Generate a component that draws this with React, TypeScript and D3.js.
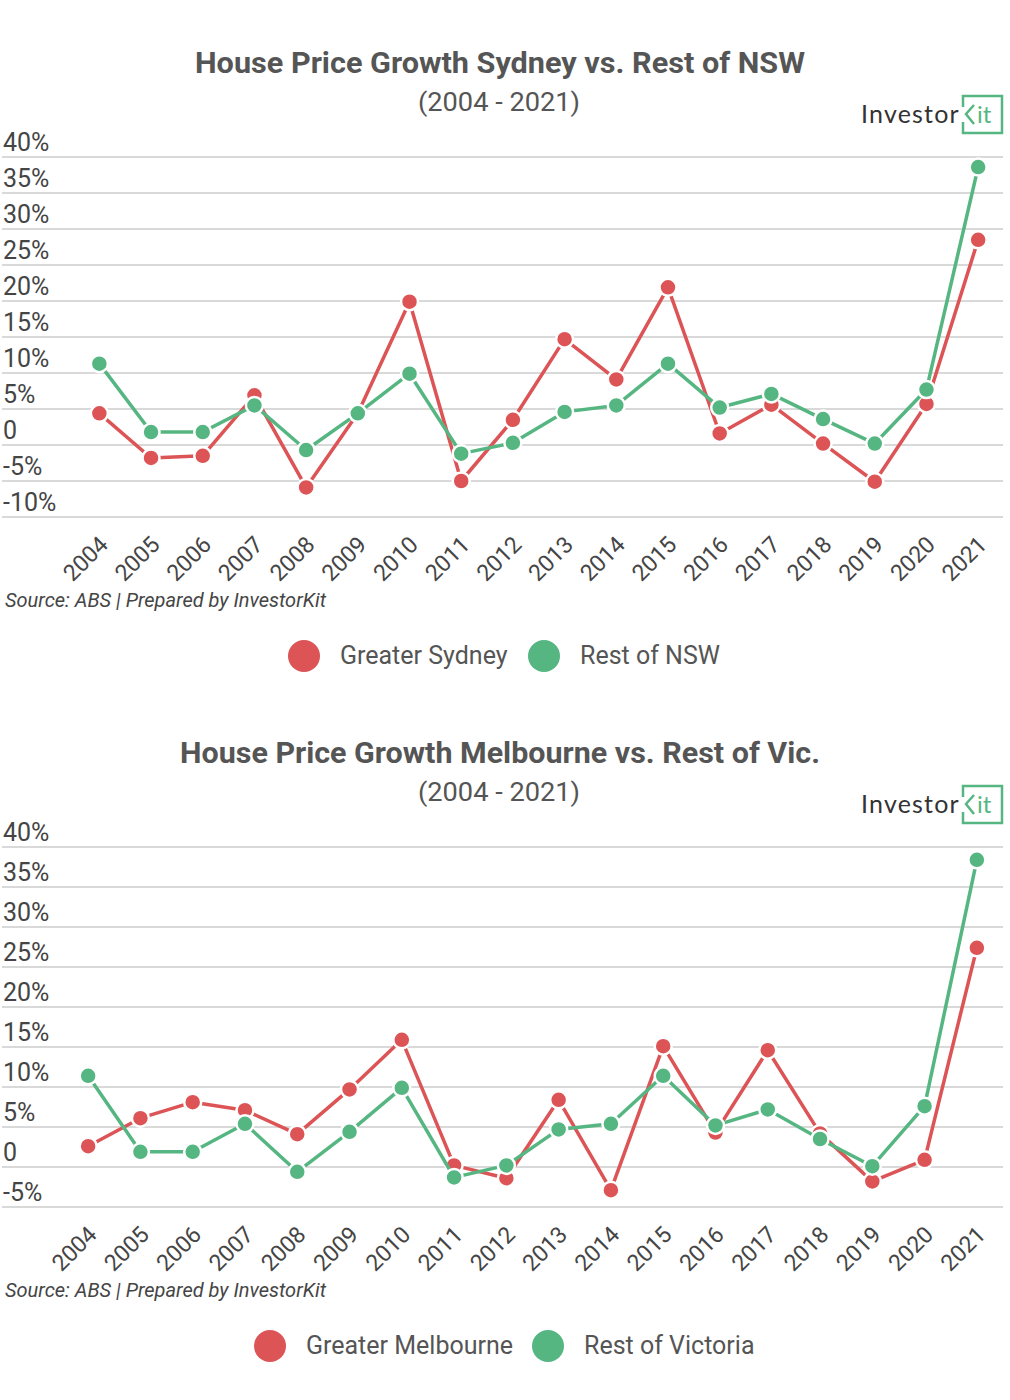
import React from "react";
import * as d3 from "d3";

const years = ["2004","2005","2006","2007","2008","2009","2010","2011","2012","2013","2014","2015","2016","2017","2018","2019","2020","2021"];

const sydney = [4.4, -1.8, -1.5, 6.9, -5.9, 4.4, 19.9, -5.0, 3.5, 14.7, 9.1, 21.9, 1.6, 5.6, 0.2, -5.1, 5.7, 28.5];
const restNSW = [11.3, 1.8, 1.8, 5.5, -0.7, 4.4, 9.9, -1.2, 0.3, 4.6, 5.5, 11.3, 5.2, 7.1, 3.6, 0.2, 7.7, 38.6];

const melbourne = [2.6, 6.1, 8.1, 7.1, 4.1, 9.7, 15.9, 0.2, -1.4, 8.4, -2.9, 15.1, 4.3, 14.6, 4.2, -1.8, 0.9, 27.4];
const restVic = [11.4, 1.9, 1.9, 5.4, -0.6, 4.4, 9.9, -1.3, 0.2, 4.7, 5.4, 11.4, 5.2, 7.2, 3.5, 0.1, 7.6, 38.4];

const ticksNSW = [40, 35, 30, 25, 20, 15, 10, 5, 0, -5, -10];
const ticksVic = [40, 35, 30, 25, 20, 15, 10, 5, 0, -5];

const RED = "#dc5456";
const GREEN = "#56b682";
const TEXT = "#454545";
const FONT = "Roboto, 'Noto Sans', sans-serif";

type PanelProps = {
  top: number;
  title: string;
  titleLen: number;
  seriesA: number[];
  seriesB: number[];
  nameA: string;
  nameB: string;
  ticks: number[];
  yTop: number;
  yBottom: number;
  xRange: [number, number];
  legendA: number;
  legendB: number;
};

function fmt(v: number) {
  return v === 0 ? "0" : `${v}%`;
}

function Logo({ y }: { y: number }) {
  return (
    <g>
      <text x={861} y={y + 27} fontFamily="Lato, 'Open Sans', sans-serif" fontSize={25} fill="#333" letterSpacing={1.2}>Investor</text>
      <path d={`M963,${y + 11} V${y} H1002 V${y + 37} H963 V${y + 26}`} fill="none" stroke={GREEN} strokeWidth={2.5} />
      <path d={`M974,${y + 9} L966,${y + 18} L974,${y + 28}`} fill="none" stroke={GREEN} strokeWidth={2.5} />
      <text x={977} y={y + 27} fontFamily="Lato, 'Open Sans', sans-serif" fontSize={24} fill={GREEN}>it</text>
    </g>
  );
}

function Panel(p: PanelProps) {
  const x = d3.scalePoint<string>().domain(years).range(p.xRange).padding(0.5);
  const minT = p.ticks[p.ticks.length - 1];
  const y = d3.scaleLinear().domain([minT, 40]).range([p.yBottom, p.yTop]);
  const line = d3
    .line<number>()
    .x((_, i) => x(years[i]) as number)
    .y((d) => y(d));

  const series = [
    { data: p.seriesA, color: RED },
    { data: p.seriesB, color: GREEN },
  ];

  return (
    <g>
      <text x={500} y={p.top + 73} textAnchor="middle" fontFamily={FONT} fontWeight={700} fontSize={29} fill="#555" textLength={p.titleLen} lengthAdjust="spacingAndGlyphs">
        {p.title}
      </text>
      <text x={499} y={p.top + 111} textAnchor="middle" fontFamily={FONT} fontSize={26} fill="#555" textLength={162} lengthAdjust="spacingAndGlyphs">
        (2004 - 2021)
      </text>
      <Logo y={p.top + 96} />
      {p.ticks.map((t) => (
        <g key={t}>
          <line x1={2} x2={1003} y1={y(t)} y2={y(t)} stroke="#d9d9d9" strokeWidth={2} />
          <text x={3} y={y(t) - 6} fontFamily={FONT} fontSize={25} fill={TEXT}>{fmt(t)}</text>
        </g>
      ))}
      {years.map((yr) => {
        const ax = (x(yr) as number) + 10;
        const ay = p.yBottom + 29;
        return (
          <text key={yr} transform={`translate(${ax},${ay}) rotate(-45)`} textAnchor="end" fontFamily={FONT} fontSize={23} fill={TEXT}>
            {yr}
          </text>
        );
      })}
      {series.map((s, si) => (
        <g key={si}>
          <path d={line(s.data) || ""} fill="none" stroke={s.color} strokeWidth={3.5} strokeLinejoin="round" />
          {s.data.map((v, i) => (
            <circle key={i} cx={x(years[i]) as number} cy={y(v)} r={8.5} fill={s.color} stroke="#fff" strokeWidth={2.5} />
          ))}
        </g>
      ))}
      <text x={5} y={p.yBottom + 90} fontFamily={FONT} fontStyle="italic" fontSize={20} fill={TEXT}>
        Source: ABS | Prepared by InvestorKit
      </text>
      <g>
        <circle cx={p.legendA} cy={p.yBottom + 139} r={16} fill={RED} />
        <text x={p.legendA + 36} y={p.yBottom + 147} fontFamily={FONT} fontSize={25} fill="#555">{p.nameA}</text>
        <circle cx={p.legendB} cy={p.yBottom + 139} r={16} fill={GREEN} />
        <text x={p.legendB + 36} y={p.yBottom + 147} fontFamily={FONT} fontSize={25} fill="#555">{p.nameB}</text>
      </g>
    </g>
  );
}

export default function App() {
  return (
    <svg width={1010} height={1400} style={{ position: "absolute", left: 0, top: 0, background: "#fff" }}>
      <rect width={1010} height={1400} fill="#fff" />
      <Panel
        top={0}
        title="House Price Growth Sydney vs. Rest of NSW"
        titleLen={610}
        seriesA={sydney}
        seriesB={restNSW}
        nameA="Greater Sydney"
        nameB="Rest of NSW"
        ticks={ticksNSW}
        yTop={157}
        yBottom={517}
        xRange={[73.5, 1004]}
        legendA={304}
        legendB={544}
      />
      <Panel
        top={690}
        title="House Price Growth Melbourne vs. Rest of Vic."
        titleLen={640}
        seriesA={melbourne}
        seriesB={restVic}
        nameA="Greater Melbourne"
        nameB="Rest of Victoria"
        ticks={ticksVic}
        yTop={847}
        yBottom={1207}
        xRange={[62, 1003]}
        legendA={270}
        legendB={548}
      />
    </svg>
  );
}
